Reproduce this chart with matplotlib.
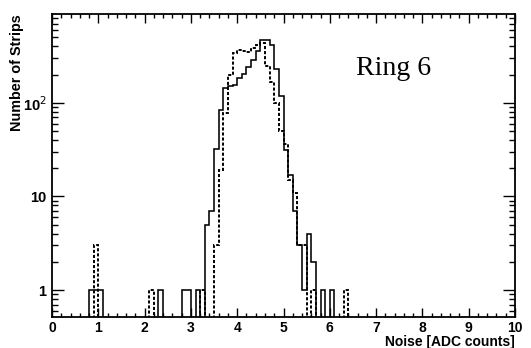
import numpy as np
import matplotlib
matplotlib.use("Agg")
import matplotlib.pyplot as plt
from matplotlib.ticker import FixedLocator, NullFormatter, MultipleLocator, FixedFormatter

# ---- data: bin centres (0.1 wide bins) and counts ----
solid_x = [0.85, 0.95, 1.05, 2.35, 2.85, 2.95, 3.15,
           3.35, 3.45, 3.55, 3.65, 3.75, 3.85, 3.95, 4.05, 4.15, 4.25,
           4.35, 4.45, 4.55, 4.65, 4.75, 4.85, 4.95, 5.05, 5.15, 5.25,
           5.35, 5.45, 5.55, 5.65, 5.85, 6.05]
solid_n = [1, 1, 1, 1, 1, 1, 1,
           5, 7, 32, 84, 142, 150, 155, 185, 205, 238,
           285, 360, 465, 465, 410, 230, 117, 31, 17, 7,
           3, 1, 4, 2, 1, 1]

dashed_x = [0.95, 2.15, 3.25,
            3.55, 3.65, 3.75, 3.85, 3.95, 4.05, 4.15, 4.25, 4.35,
            4.45, 4.55, 4.65, 4.75, 4.85, 4.95, 5.05, 5.15, 5.25,
            5.35, 5.45, 5.65, 6.35]
dashed_n = [3, 1, 1,
            3, 19, 77, 200, 340, 370, 360, 350, 385,
            415, 440, 245, 165, 100, 50, 36, 15, 11,
            3, 3, 1, 1]

bin_edges = np.linspace(0, 10, 101)
x_ticklabels = ["0", "1", "2", "3", "4", "5", "6", "7", "8", "9", "10"]
y_ticks = [1, 10, 100]
y_ticklabels = ["1", "10", "10$^{2}$"]

FLOOR = 1e-3

solid_h, _ = np.histogram(solid_x, bins=bin_edges, weights=solid_n)
dashed_h, _ = np.histogram(dashed_x, bins=bin_edges, weights=dashed_n)
solid_h = np.where(solid_h > 0, solid_h, FLOOR)
dashed_h = np.where(dashed_h > 0, dashed_h, FLOOR)

W, H = 531, 348
fig = plt.figure(figsize=(W / 100, H / 100), dpi=100)
L, R, T, B = 52, 515, 14, 317
ax = fig.add_axes([L / W, 1 - B / H, (R - L) / W, (B - T) / H])

ax.stairs(dashed_h, bin_edges, baseline=FLOOR, color="black", lw=1.4,
          linestyle=(0, (1.6, 1.0)))
ax.stairs(solid_h, bin_edges, baseline=FLOOR, color="black", lw=1.15)

ax.set_yscale("log")
ax.set_xlim(0, 10)
ax.set_ylim(0.515, 887)

bold = dict(family="Liberation Sans", weight="bold")

ax.xaxis.set_minor_locator(MultipleLocator(0.2))
ax.set_xticks(range(11))
ax.set_xticklabels(x_ticklabels, fontdict=dict(size=10, **bold))

ax.yaxis.set_major_locator(FixedLocator(y_ticks))
ax.yaxis.set_major_formatter(FixedFormatter(y_ticklabels))
minors = [v * d for d in (0.1, 1, 10, 100) for v in range(2, 10)]
ax.yaxis.set_minor_locator(FixedLocator(minors))
ax.yaxis.set_minor_formatter(NullFormatter())
for lab in ax.get_yticklabels():
    lab.set_fontfamily("Liberation Sans")
    lab.set_fontweight("bold")
    lab.set_fontsize(10.5)

ax.tick_params(axis="both", which="both", direction="in", top=True, right=True,
               width=1.0, color="black")
ax.tick_params(axis="x", which="major", length=6.5, pad=3)
ax.tick_params(axis="x", which="minor", length=3.2)
ax.tick_params(axis="y", which="major", length=8.5, pad=4)
ax.tick_params(axis="y", which="minor", length=4.2)

for s in ax.spines.values():
    s.set_linewidth(1.3)

fig.text(R / W, 1 - 342 / H, "Noise [ADC counts]", ha="right", va="center",
         fontsize=10, **bold)
fig.text(17 / W, 1 - T / H, "Number of Strips", ha="center", va="top",
         rotation=90, fontsize=10.4, **bold)

ax.text(356 / W, 1 - 75 / H, "Ring 6", transform=fig.transFigure,
        family="Liberation Serif", fontsize=20, ha="left", va="baseline")

fig.savefig("out.png", dpi=100)
